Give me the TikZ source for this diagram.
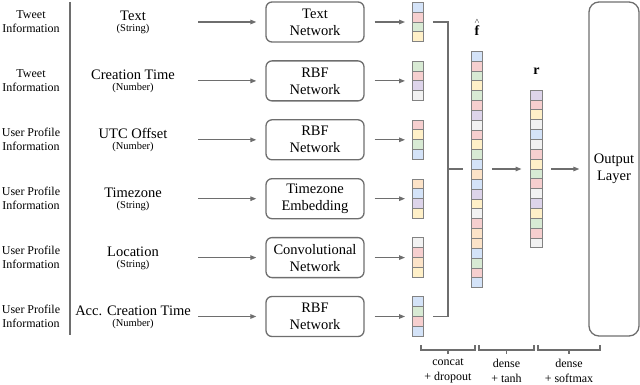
\documentclass[tikz,border=0pt]{standalone}
\usepackage{fontspec}
\setmainfont{Liberation Serif}
\usetikzlibrary{arrows.meta,positioning,calc}
\definecolor{edgegray}{HTML}{6E6E6E}
\definecolor{cellline}{HTML}{828282}
\definecolor{cellB}{HTML}{D4E3F8}
\definecolor{cellR}{HTML}{F6CFCF}
\definecolor{cellG}{HTML}{D8EAD4}
\definecolor{cellY}{HTML}{FFF0C8}
\definecolor{cellP}{HTML}{DDD4EA}
\definecolor{cellW}{HTML}{F2F2F2}
\definecolor{cellO}{HTML}{FCE3C8}
\newcommand{\cellh}{9.85}
\newcommand{\typesize}{\fontsize{10.5}{12}\selectfont}
% a vector: outer node #1 at (#2,#3), #4 cells, colours #5
\newcommand{\cellstack}[5]{%
	\node[vecbox, minimum height={#4*\cellh pt}] (#1) at (#2,#3) {};
	\foreach \c [count=\i] in {#5}
		\node[cell, fill=cell\c] (#1-\i) at (#2, {#3-#4*\cellh/2+(\i-0.5)*\cellh}) {};
}
\tikzset{
	arr/.style={-{Triangle[length=6pt,width=4.5pt]}, draw=edgegray, line width=1.2pt},
	featarr/.style={arr, shorten >=9pt},
	netarr/.style={arr, shorten <=10pt, shorten >=7pt},
	layerarr/.style={arr, shorten <=9pt, shorten >=9pt},
	line/.style={draw=edgegray, line width=1.2pt},
	brk/.style={draw=edgegray, line width=1.1pt},
	group/.style={align=center, font=\fontsize{12}{14}\selectfont},
	feat/.style={font=\fontsize{14.5}{16}\selectfont, inner sep=0, anchor=base},
	feattype/.style={font=\typesize, inner sep=0, anchor=base},
	netbox/.style={rectangle, rounded corners=6pt, draw=edgegray, line width=1.3pt, minimum width=98pt, minimum height=40pt, align=center, font=\fontsize{14.5}{17}\selectfont},
	vecbox/.style={rectangle, inner sep=0, minimum width=11.5pt},
	cell/.style={rectangle, draw=cellline, line width=0.9pt, inner sep=0, minimum width=11.5pt, minimum height=\cellh pt}
}
\begin{document}
\begin{tikzpicture}[x=1pt,y=-1pt,
		outbox/.style={rectangle, rounded corners=10pt, draw=edgegray, line width=1.3pt, minimum width=50pt, minimum height=334pt, align=center, font=\fontsize{14.5}{17}\selectfont},
		veclabel/.style={font=\fontsize{14}{14}\selectfont, inner sep=0},
		steplbl/.style={align=center, font=\fontsize{12}{15}\selectfont, inner sep=0}
		]
	\useasboundingbox (0,0) rectangle (640,385);
	% sources
	\node[group] (g1) at (31,22) {Tweet\\Information};
	\node[group] (g2) at (31,80.9) {Tweet\\Information};
	\node[group] (g3) at (31,139.8) {User Profile\\Information};
	\node[group] (g4) at (31,198.7) {User Profile\\Information};
	\node[group] (g5) at (31,257.6) {User Profile\\Information};
	\node[group] (g6) at (31,316.5) {User Profile\\Information};
	\draw[line] (70,2) -- (70,335);
	% features
	\node[feat] (f1) at (133,21) {Text};
	\node[feattype] (f1t) at (133,32) {(String)};
	\node[feat] (f2) at (133,79.9) {Creation Time};
	\node[feattype] (f2t) at (133,90.9) {(Number)};
	\node[feat] (f3) at (133,138.8) {UTC Offset};
	\node[feattype] (f3t) at (133,149.8) {(Number)};
	\node[feat] (f4) at (133,197.7) {Timezone};
	\node[feattype] (f4t) at (133,208.7) {(String)};
	\node[feat] (f5) at (133,256.6) {Location};
	\node[feattype] (f5t) at (133,267.6) {(String)};
	\node[feat] (f6) at (133,315.5) {Acc. Creation Time};
	\node[feattype] (f6t) at (133,326.5) {(Number)};
	\coordinate (s1) at (198,22);
	\coordinate (s2) at (198,80.9);
	\coordinate (s3) at (198,139.8);
	\coordinate (s4) at (198,198.7);
	\coordinate (s5) at (198,257.6);
	\coordinate (s6) at (198,316.5);
	% networks
	\node[netbox] (b1) at (315,22) {Text\\Network};
	\node[netbox] (b2) at (315,80.9) {RBF\\Network};
	\node[netbox] (b3) at (315,139.8) {RBF\\Network};
	\node[netbox] (b4) at (315,198.7) {Timezone\\Embedding};
	\node[netbox] (b5) at (315,257.6) {Convolutional\\Network};
	\node[netbox] (b6) at (315,316.5) {RBF\\Network};
	% vectors
	\cellstack{v1}{418}{22}{4}{B,R,G,Y}
	\cellstack{v2}{418}{80.9}{4}{G,R,P,W}
	\cellstack{v3}{418}{139.8}{4}{R,Y,G,B}
	\cellstack{v4}{418}{198.7}{4}{O,B,P,Y}
	\cellstack{v5}{418}{257.6}{4}{W,R,O,Y}
	\cellstack{v6}{418}{316.5}{4}{B,G,R,B}
	\cellstack{fhat}{477}{169.5}{24}{B,R,G,Y,G,R,P,W,R,Y,G,B,O,B,P,Y,W,R,O,O,B,G,R,B}
	\cellstack{r}{536.5}{169}{16}{P,R,Y,W,B,W,R,Y,G,R,W,P,Y,G,R,W}
	\node[veclabel] (fhatlbl) at (477,27) {$\stackrel{\scriptscriptstyle\wedge}{\mathbf{f}}$};
	\node[veclabel] (rlbl) at (536.5,71) {$\mathbf{r}$};
	\node[outbox] (out) at (614,169) {Output\\Layer};
	\path
		(s1) edge[featarr] (b1)
		(s2) edge[featarr] (b2)
		(s3) edge[featarr] (b3)
		(s4) edge[featarr] (b4)
		(s5) edge[featarr] (b5)
		(s6) edge[featarr] (b6);
	\path
		(b1) edge[netarr] (v1)
		(b2) edge[netarr] (v2)
		(b3) edge[netarr] (v3)
		(b4) edge[netarr] (v4)
		(b5) edge[netarr] (v5)
		(b6) edge[netarr] (v6);
	% concat
	\coordinate (cc) at (448,169);
	\draw[line] ([xshift=9pt]v1.east) -| (cc) |- ([xshift=9pt]v6.east);
	\draw[line] (cc) -- ([xshift=-8pt]fhat.west |- cc);
	\path
		(fhat.east |- cc) edge[layerarr] (r.west |- cc)
		(r.east |- cc) edge[layerarr] (out.west |- cc);
	% layer steps
	\draw[brk] (421,345) |- (475,350) -- (475,345);
	\draw[brk] (448,350) -- (448,354);
	\draw[brk] (479,345) |- (534,350) -- (534,345);
	\draw[brk] (506.5,350) -- (506.5,354);
	\draw[brk] (538,345) |- (600,350) -- (600,345);
	\draw[brk] (569,350) -- (569,354);
	\node[steplbl] (st1) at (448,371) {concat\\+ dropout};
	\node[steplbl] (st2) at (506.5,371) {dense\\+ tanh};
	\node[steplbl] (st3) at (569,371) {dense\\+ softmax};
\end{tikzpicture}
\end{document}
